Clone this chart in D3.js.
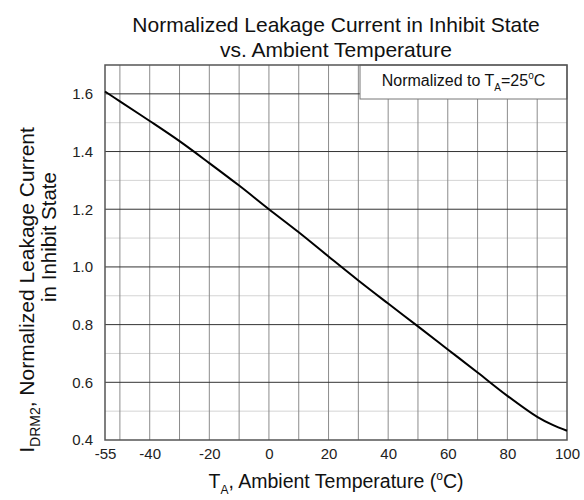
<!DOCTYPE html>
<html>
<head>
<meta charset="utf-8">
<script src="https://cdn.jsdelivr.net/npm/d3@7"></script>
<style>
  html, body { margin: 0; padding: 0; background: #fff; }
  svg { display: block; font-family: "Liberation Sans", Arial, sans-serif; }
</style>
</head>
<body>
<svg id="chart" width="584" height="500"></svg>
<script>
// ---- data ----
const temperatures = [-55, -50, -40, -30, -20, -10, 0, 10, 20, 30, 40, 50, 60, 70, 80, 90, 95, 100];
const leakage = [1.608, 1.574, 1.506, 1.436, 1.360, 1.282, 1.200, 1.120, 1.036, 0.953, 0.873, 0.794, 0.714, 0.634, 0.553, 0.480, 0.453, 0.432];
const xTickLabels = [-55, -40, -20, 0, 20, 40, 60, 80, 100];
const xGrid = [-50, -40, -30, -20, -10, 0, 10, 20, 30, 40, 50, 60, 70, 80, 90];
const yTickLabels = [0.4, 0.6, 0.8, 1.0, 1.2, 1.4, 1.6];
const yMajorGrid = [0.6, 0.8, 1.0, 1.2, 1.4, 1.6];
const yMinorGrid = [0.5, 0.7, 0.9, 1.1, 1.3, 1.5];
const titleLines = ["Normalized Leakage Current in Inhibit State", "vs. Ambient Temperature"];

// ---- layout ----
const svg = d3.select("#chart");
const L = 105, R = 567, T = 65, B = 440;
const x = d3.scaleLinear().domain([-55, 100]).range([L, R]);
const y = d3.scaleLinear().domain([0.4, 1.7]).range([B, T]);

// grid
const g = svg.append("g");
g.selectAll(".ymin").data(yMinorGrid).enter().append("line")
  .attr("x1", L).attr("x2", R).attr("y1", d => y(d)).attr("y2", d => y(d))
  .attr("stroke", "#d4d4d4").attr("stroke-width", 1);
g.selectAll(".xg").data(xGrid).enter().append("line")
  .attr("x1", d => x(d)).attr("x2", d => x(d)).attr("y1", T).attr("y2", B)
  .attr("stroke", "#8c8c8c").attr("stroke-width", 1);
g.selectAll(".ymaj").data(yMajorGrid).enter().append("line")
  .attr("x1", L).attr("x2", R).attr("y1", d => y(d)).attr("y2", d => y(d))
  .attr("stroke", "#333").attr("stroke-width", 1);

// legend box (covers grid)
const boxL = 360;
svg.append("rect").attr("x", boxL).attr("y", T).attr("width", R - boxL).attr("height", 34)
  .attr("fill", "#fff").attr("stroke", "#777").attr("stroke-width", 1);
const lt = svg.append("text").attr("x", (boxL + R) / 2).attr("y", 86)
  .attr("text-anchor", "middle").attr("font-size", 16).attr("fill", "#111");
lt.append("tspan").text("Normalized to T");
lt.append("tspan").attr("font-size", 10).attr("dy", 5).text("A");
lt.append("tspan").attr("dy", -5).text("=25");
lt.append("tspan").attr("font-size", 10).attr("dy", -7).text("o");
lt.append("tspan").attr("dy", 7).text("C");

// frame
svg.append("rect").attr("x", L).attr("y", T).attr("width", R - L).attr("height", B - T)
  .attr("fill", "none").attr("stroke", "#555").attr("stroke-width", 1.5);

// curve
const line = d3.line().x((d, i) => x(temperatures[i])).y(d => y(d)).curve(d3.curveCatmullRom.alpha(0.5));
svg.append("path").datum(leakage).attr("d", line)
  .attr("fill", "none").attr("stroke", "#000").attr("stroke-width", 2);

// axes (labels only)
const xAxis = d3.axisBottom(x).tickValues(xTickLabels).tickSize(0).tickPadding(8).tickFormat(d => String(d));
const ax = svg.append("g").attr("transform", `translate(0,${B})`).call(xAxis);
ax.select(".domain").remove();
ax.selectAll("text").attr("font-size", 15).attr("fill", "#222").attr("font-family", "Liberation Sans, Arial, sans-serif");

const yAxis = d3.axisLeft(y).tickValues(yTickLabels).tickSize(0).tickPadding(12).tickFormat(d3.format(".1f"));
const ay = svg.append("g").attr("transform", `translate(${L},0)`).call(yAxis);
ay.select(".domain").remove();
ay.selectAll("text").attr("font-size", 15).attr("fill", "#222").attr("font-family", "Liberation Sans, Arial, sans-serif");

// title
svg.selectAll(".title").data(titleLines).enter().append("text")
  .attr("x", 336).attr("y", (d, i) => 32 + i * 25)
  .attr("text-anchor", "middle").attr("font-size", 21).attr("fill", "#111").text(d => d);

// x label
const xl = svg.append("text").attr("x", 336).attr("y", 488).attr("text-anchor", "middle")
  .attr("font-size", 19.5).attr("fill", "#111");
xl.append("tspan").text("T");
xl.append("tspan").attr("font-size", 12).attr("dy", 6).text("A");
xl.append("tspan").attr("dy", -6).text(", Ambient Temperature (");
xl.append("tspan").attr("font-size", 12).attr("dy", -8).text("o");
xl.append("tspan").attr("dy", 8).text("C)");

// y label
const yl1 = svg.append("text").attr("transform", `translate(34,290) rotate(-90)`)
  .attr("text-anchor", "middle").attr("font-size", 21).attr("fill", "#111");
yl1.append("tspan").text("I");
yl1.append("tspan").attr("font-size", 14).attr("dy", 6).text("DRM2");
yl1.append("tspan").attr("dy", -6).text(", Normalized Leakage Current");
svg.append("text").attr("transform", `translate(56,237) rotate(-90)`)
  .attr("text-anchor", "middle").attr("font-size", 20.5).attr("fill", "#111")
  .text("in Inhibit State");
</script>
</body>
</html>
